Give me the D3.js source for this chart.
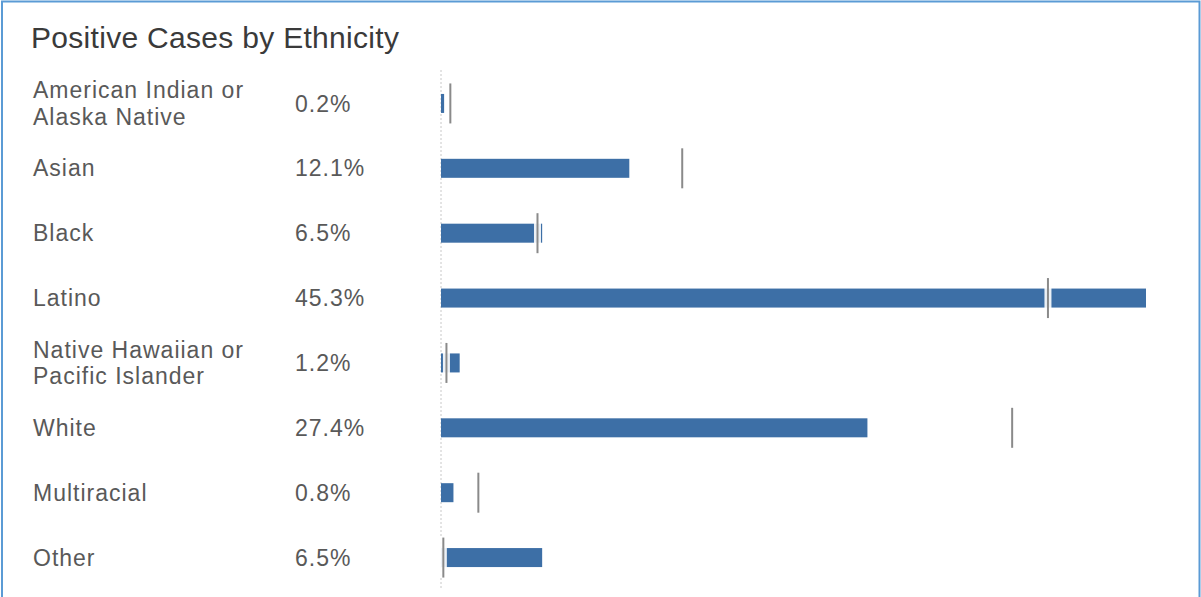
<!DOCTYPE html>
<meta charset="utf-8" />
<script src="https://d3js.org/d3.v7.min.js"></script>
<style>
  body { margin: 0; background: #fff; }
  svg { display: block; }
</style>
<body>
<div id="my_dataviz"></div>
<script>
  // values
  var categories = [
    "American Indian or Alaska Native",
    "Asian",
    "Black",
    "Latino",
    "Native Hawaiian or Pacific Islander",
    "White",
    "Multiracial",
    "Other"
  ];
  var caseShares = [0.2, 12.1, 6.5, 45.3, 1.2, 27.4, 0.8, 6.5];
  // grey reference marks (estimated population share)
  var referenceShares = [0.6, 15.5, 6.2, 39.0, 0.35, 36.7, 2.4, 0.15];

  var width = 1201, height = 597;
  var fontFamily = "'Liberation Sans', Arial, sans-serif";

  var rows = categories.map(function (c, i) {
    return { name: c, value: caseShares[i], ref: referenceShares[i] };
  });

  var svg = d3.select("#my_dataviz")
    .append("svg")
    .attr("width", width)
    .attr("height", height);

  // outer frame
  svg.append("rect")
    .attr("x", 2).attr("y", 1.5)
    .attr("width", 1197.5).attr("height", 620)
    .attr("fill", "none")
    .attr("stroke", "#5b9bd5")
    .attr("stroke-width", 2);

  svg.append("text")
    .attr("x", 31).attr("y", 48)
    .attr("font-family", fontFamily)
    .attr("font-size", "30px")
    .attr("letter-spacing", "0.3px")
    .attr("fill", "#3a3a3a")
    .text("Positive Cases by Ethnicity");

  var x = d3.scaleLinear()
    .domain([0, d3.max(caseShares)])
    .range([441, 1146]);

  var y = d3.scaleBand()
    .domain(categories)
    .range([71, 590])
    .padding(0);

  var barH = 19, refH = 40;

  // dotted zero line
  svg.append("line")
    .attr("x1", x(0)).attr("x2", x(0))
    .attr("y1", 70).attr("y2", 590)
    .attr("stroke", "#c8c8c8")
    .attr("stroke-width", 1)
    .attr("stroke-dasharray", "2,2");

  var row = svg.selectAll("g.row")
    .data(rows)
    .enter()
    .append("g")
    .attr("class", "row")
    .attr("transform", function (d) {
      return "translate(0," + (y(d.name) + y.bandwidth() / 2) + ")";
    });

  // category labels, wrapped to two lines when long
  row.each(function (d) {
    var g = d3.select(this);
    var t = g.append("text")
      .attr("x", 33)
      .attr("font-family", fontFamily)
      .attr("font-size", "23px")
      .attr("letter-spacing", "1px")
      .attr("fill", "#595959");
    var words = d.name.split(" ");
    var lines = [], line = [];
    var probe = t.append("tspan");
    words.forEach(function (w) {
      line.push(w);
      probe.text(line.join(" "));
      if (probe.node().getComputedTextLength() > 235 && line.length > 1) {
        line.pop();
        lines.push(line.join(" "));
        line = [w];
      }
    });
    lines.push(line.join(" "));
    probe.remove();
    var lh = 27;
    lines.forEach(function (l, i) {
      t.append("tspan")
        .attr("x", 33)
        .attr("y", (i - (lines.length - 1) / 2) * lh)
        .attr("dy", "0.35em")
        .text(l);
    });
  });

  row.append("text")
    .attr("x", 295)
    .attr("dy", "0.35em")
    .attr("font-family", fontFamily)
    .attr("font-size", "23px")
    .attr("letter-spacing", "1px")
    .attr("fill", "#595959")
    .text(function (d) { return d3.format(".1f")(d.value) + "%"; });

  row.append("rect")
    .attr("x", x(0))
    .attr("y", -barH / 2)
    .attr("width", function (d) { return x(d.value) - x(0); })
    .attr("height", barH)
    .attr("fill", "#3d6fa6");

  // reference marks with white halo
  row.append("rect")
    .attr("x", function (d) { return x(d.ref) - 3.5; })
    .attr("y", -refH / 2)
    .attr("width", 7)
    .attr("height", refH)
    .attr("fill", "#fff")
    .attr("opacity", 0.9);

  row.append("line")
    .attr("x1", function (d) { return x(d.ref); })
    .attr("x2", function (d) { return x(d.ref); })
    .attr("y1", -refH / 2)
    .attr("y2", refH / 2)
    .attr("stroke", "#8a8a8a")
    .attr("stroke-width", 2);
</script>
</body>
